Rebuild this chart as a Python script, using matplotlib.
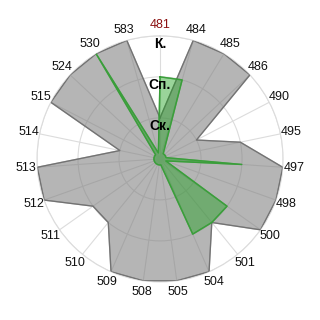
import numpy as np
import matplotlib
matplotlib.use("Agg")
import matplotlib.pyplot as plt

plt.rcParams['font.family'] = ['Liberation Sans', 'DejaVu Sans']

categories = ['481', '484', '485', '486', '490', '495', '497', '498', '500', '501',
              '504', '505', '508', '509', '510', '511', '512', '513', '514', '515',
              '524', '530', '583']
gray_values = [1, 3, 3, 3, 1, 2, 3, 3, 3, 2, 3, 3, 3, 3, 2, 2, 3, 3, 1, 3, 3, 3, 3]
green_values = [2, 2, 0.15, 0.15, 0.15, 0.15, 2, 0.15, 2, 2, 2, 0.15, 0.15, 0.15,
                0.15, 0.15, 0.15, 0.15, 0.15, 0.15, 0.15, 3, 0.15]
level_values = [1, 2, 3]
level_labels = ['Ск.', 'Сп.', 'К.']

n = len(categories)
theta = np.arange(n) * 2 * np.pi / n
theta_c = np.append(theta, theta[0])
gray_c = np.append(gray_values, gray_values[0])
green_c = np.append(green_values, green_values[0])

fig = plt.figure(figsize=(3.2, 3.2), dpi=100)
ax = fig.add_axes([0.1156, 0.119, 0.769, 0.769], projection='polar')
ax.set_theta_zero_location('N')
ax.set_theta_direction(-1)
ax.set_ylim(0, 3)

ax.set_xticks(theta)
ax.set_xticklabels([])
ax.set_yticks(level_values)
ax.set_yticklabels([])
ax.grid(True, color='#dcdcdc', linewidth=0.8)
ax.spines['polar'].set_color('#dcdcdc')
ax.spines['polar'].set_linewidth(0.8)
ax.tick_params(length=0)

ax.fill(theta_c, gray_c, color='#808080', alpha=0.58, zorder=2)
ax.plot(theta_c, gray_c, color='#727272', linewidth=0.9, zorder=3)

ax.fill(theta_c, green_c, color='#1fa01f', alpha=0.45, zorder=4)
ax.plot(theta_c, green_c, color='#3a9e3a', linewidth=1.0, zorder=5)

for t, lab in zip(theta, categories):
    col = '#8b1010' if lab == '481' else '#111111'
    ax.text(t, 3.27, lab, ha='center', va='center', fontsize=9, color=col,
            clip_on=False)

for v, lab in zip(level_values, level_labels):
    ax.text(0, v - 0.03, lab, ha='center', va='top', fontsize=10,
            fontweight='bold', color='black', zorder=10)

fig.savefig('out.png', dpi=100)
